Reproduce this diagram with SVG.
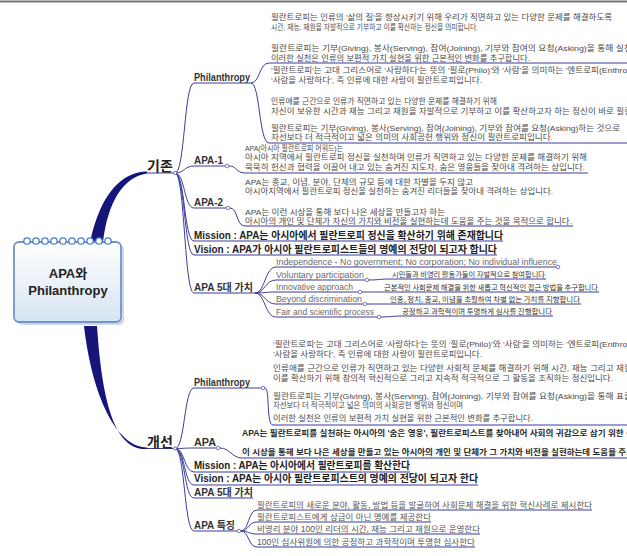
<svg xmlns="http://www.w3.org/2000/svg" width="627" height="556" viewBox="0 0 627 556">
<defs>
<linearGradient id="boxg" x1="0" y1="0" x2="0" y2="1">
<stop offset="0" stop-color="#ffffff"/>
<stop offset="1" stop-color="#d6e4f3"/>
</linearGradient>
<style>
.c{fill:none;stroke:#3c3c9a;stroke-width:1}
.dot{fill:#fff;stroke:#5a5aa8;stroke-width:0.8}
.thick{fill:#15157a}
.t{font-family:"Liberation Sans","Noto Sans CJK KR",sans-serif;font-size:7.8px;fill:#4a4a4a}
.tb{font-family:"Liberation Sans","Noto Sans CJK KR",sans-serif;font-size:8.2px;font-weight:bold;fill:#2a2a2a}
.lab{font-family:"Liberation Sans","Noto Sans CJK KR",sans-serif;font-size:10px;font-weight:bold;fill:#333}
.mv{font-family:"Liberation Sans","Noto Sans CJK KR",sans-serif;font-size:10.5px;font-weight:bold;fill:#222}
.main{font-family:"Noto Sans CJK KR",sans-serif;font-size:14px;font-weight:bold;fill:#222}
.en{font-family:"Liberation Sans","Noto Sans CJK KR",sans-serif;font-size:9px;fill:#6a6a6a}
.kd{font-family:"Noto Sans CJK KR",sans-serif;font-size:6.5px;fill:#333}
.ft{font-family:"Liberation Sans","Noto Sans CJK KR",sans-serif;font-size:8.3px;fill:#555}
.ring{fill:#fff;stroke:#4a7fc8;stroke-width:1.3}
</style>
</defs>
<rect x="0" y="0" width="627" height="556" fill="#fff"/>
<line x1="0" y1="1.5" x2="627" y2="1.5" stroke="#777" stroke-width="2"/>

<g id="connectors">
<path class="thick" d="M90,242 C100,196 120,172 147,171.5 L147,173.5 C123,177 108,202 103,242 Z"/>
<path class="thick" d="M84,326 C92,395 116,447 147,447.5 L147,449 C114,451 102,400 97,326 Z"/>
<path class="c" d="M147,173 L175,173"/>
<path class="c" d="M147,448.5 L175,448.5"/>
<path class="c" d="M175,173 C185,173 184,83 194,83 L251,83"/>
<path class="c" d="M175,173 C185,173 184,166 194,166 L225,166"/>
<path class="c" d="M175,173 C185,173 184,208 194,208 L226,208"/>
<path class="c" d="M175,173 C185,173 184,241 194,241 L503,241"/>
<path class="c" d="M175,173 C185,173 184,255 194,255 L497,255"/>
<path class="c" d="M175,173 C185,173 184,293 194,293 L255,293"/>
<path class="c" d="M251,83 C260,83 259,63 269,63 L627,63"/>
<path class="c" d="M251,83 C260,83 259,143 269,143 L627,143"/>
<path class="c" d="M229,166 C237,166 236,173 245,173 L588,173"/>
<path class="c" d="M230,208 C238,208 236,226 245,226 L573,226"/>
<path class="c" d="M255,293 C265,293 265,267 276,267 L556,267"/>
<path class="c" d="M255,293 C265,293 265,280 276,280 L365,280"/>
<path class="c" d="M255,293 C265,293 265,292 276,292 L358,292"/>
<path class="c" d="M255,293 C265,293 265,304 276,304 L363,304"/>
<path class="c" d="M255,293 C265,293 265,317 276,317 L377,317"/>
<path class="c" d="M369,280 C378,280 381,279 390,279 L546,279"/>
<path class="c" d="M362,292 C371,292 375,292 383,292 L599,292"/>
<path class="c" d="M367,304 C376,304 381,304 389,304 L581,304"/>
<path class="c" d="M381,317 C390,317 393,316 401,316 L553,316"/>
<path class="c" d="M175,448.5 C185,448.5 184,388 194,388 L261,388"/>
<path class="c" d="M175,448.5 C185,448.5 184,448 194,448 L216,448"/>
<path class="c" d="M175,448.5 C185,448.5 184,472 194,472 L410,472"/>
<path class="c" d="M175,448.5 C185,448.5 184,485 194,485 L478,485"/>
<path class="c" d="M175,448.5 C185,448.5 184,498 194,498 L253,498"/>
<path class="c" d="M175,448.5 C185,448.5 184,531 194,531 L237,531"/>
<path class="c" d="M265,388 C270,388 266,425 273,425 L627,425"/>
<path class="c" d="M220,448 C230,448 232,458 242,458 L627,458"/>
<path class="c" d="M241,531 C249,531 248,510 257,510 L592,510"/>
<path class="c" d="M241,531 C249,531 248,522 257,522 L431,522"/>
<path class="c" d="M241,531 C249,531 248,534 257,534 L480,534"/>
<path class="c" d="M241,531 C249,531 248,547 257,547 L475,547"/>
<circle class="dot" cx="175" cy="173" r="1.6"/>
<circle class="dot" cx="175" cy="448.5" r="1.6"/>
<circle class="dot" cx="227" cy="166" r="1.8"/>
<circle class="dot" cx="228" cy="208" r="1.8"/>
<circle class="dot" cx="558" cy="267" r="1.8"/>
<circle class="dot" cx="367" cy="280" r="1.8"/>
<circle class="dot" cx="360" cy="292" r="1.8"/>
<circle class="dot" cx="365" cy="304" r="1.8"/>
<circle class="dot" cx="379" cy="317" r="1.8"/>
<circle class="dot" cx="263" cy="388" r="1.8"/>
<circle class="dot" cx="218" cy="448" r="1.8"/>
<circle class="dot" cx="239" cy="531" r="1.8"/>
</g>

<g id="center">
<rect x="17" y="245" width="107" height="80" rx="5" fill="#9fb4cc" opacity="0.5"/>
<rect x="14" y="242" width="107" height="80" rx="5" fill="url(#boxg)" stroke="#6f95c8" stroke-width="1.8"/>
<circle class="ring" cx="27" cy="241" r="3.2"/><circle class="ring" cx="36" cy="241" r="3.2"/><circle class="ring" cx="45" cy="241" r="3.2"/><circle class="ring" cx="54" cy="241" r="3.2"/><circle class="ring" cx="63" cy="241" r="3.2"/><circle class="ring" cx="72" cy="241" r="3.2"/><circle class="ring" cx="81" cy="241" r="3.2"/><circle class="ring" cx="90" cy="241" r="3.2"/><circle class="ring" cx="99" cy="241" r="3.2"/><circle class="ring" cx="108" cy="241" r="3.2"/>
<text x="68" y="278" text-anchor="middle" font-family="Liberation Sans,'Noto Sans CJK KR',sans-serif" font-size="13" font-weight="bold" fill="#222">APA와</text>
<text x="68" y="295" text-anchor="middle" font-family="Liberation Sans,'Noto Sans CJK KR',sans-serif" font-size="13" font-weight="bold" fill="#222">Philanthropy</text>
</g>

<g id="gizon">
<text class="main" x="147" y="171">기존</text>
</g>
<g id="gaeseon">
<text class="main" x="147" y="447">개선</text>
</g>

<g id="phil1">
<text class="lab" x="194" y="81" textLength="56" lengthAdjust="spacingAndGlyphs">Philanthropy</text>
</g>
<g id="phil1-a">
<text class="t" x="271" y="19.5" textLength="341" lengthAdjust="spacingAndGlyphs">필란트로피는 인류의 '삶의 질'을 향상시키기 위해 우리가 직면하고 있는 다양한 문제를 해결하도록</text>
<text class="t" x="271" y="30" textLength="207" lengthAdjust="spacingAndGlyphs">시간, 재능, 재원을 자발적으로 기부하고 이를 확산하는 정신을 의미합니다.</text>
<text class="t" x="271" y="51" textLength="361" lengthAdjust="spacingAndGlyphs">필란트로피는 기부(Giving), 봉사(Serving), 참여(Joining), 기부와 참여의 요청(Asking)을 통해 실천</text>
<text class="t" x="271" y="60.5" textLength="259" lengthAdjust="spacingAndGlyphs">이러한 실천은 인류의 보편적 가치 실현을 위한 근본적인 변화를 추구합니다.</text>
</g>
<g id="phil1-b">
<text class="t" x="271" y="73" textLength="361" lengthAdjust="spacingAndGlyphs">'필란트로피'는 고대 그리스어로 '사랑하다'는 뜻의 '필로(Philo)'와 '사람'을 의미하는 '엔트로피(Enthrop</text>
<text class="t" x="271" y="82.5" textLength="211" lengthAdjust="spacingAndGlyphs">'사람을 사랑하다', 즉 인류에 대한 사랑이 필란트로피입니다.</text>
<text class="t" x="271" y="104" textLength="226" lengthAdjust="spacingAndGlyphs">인류애를 근간으로 인류가 직면하고 있는 다양한 문제를 해결하기 위해</text>
<text class="t" x="271" y="113.5" textLength="361" lengthAdjust="spacingAndGlyphs">자신이 보유한 시간과 재능 그리고 재원을 자발적으로 기부하고 이를 확산하고자 하는 정신이 바로 필란</text>
<text class="t" x="271" y="130.5" textLength="349" lengthAdjust="spacingAndGlyphs">필란트로피는 기부(Giving), 봉사(Serving), 참여(Joining), 기부와 참여를 요청(Asking)하는 것으로</text>
<text class="t" x="271" y="140" textLength="282" lengthAdjust="spacingAndGlyphs">자선보다 더 적극적이고 넓은 의미의 사회공헌 행위와 정신이 필란트로피입니다.</text>
</g>

<g id="apa1">
<text class="lab" x="194" y="164" textLength="29" lengthAdjust="spacingAndGlyphs">APA-1</text>
</g>
<g id="apa1-t">
<text class="t" x="245" y="151" textLength="98" lengthAdjust="spacingAndGlyphs">APA(아시아 필란트로피 어워드)는</text>
<text class="t" x="245" y="160" textLength="342" lengthAdjust="spacingAndGlyphs">아시아 지역에서 필란트로피 정신을 실천하며 인류가 직면하고 있는 다양한 문제를 해결하기 위해</text>
<text class="t" x="245" y="169.5" textLength="340" lengthAdjust="spacingAndGlyphs">묵묵히 헌신과 협력을 이끌어 내고 있는 숨겨진 지도자, 숨은 영웅들을 찾아내 격려하는 상입니다.</text>
</g>
<g id="apa2">
<text class="lab" x="194" y="206" textLength="29" lengthAdjust="spacingAndGlyphs">APA-2</text>
</g>
<g id="apa2-t">
<text class="t" x="245" y="185" textLength="228" lengthAdjust="spacingAndGlyphs">APA는 종교, 이념, 분야, 단체의 규모 등에 대한 차별을 두지 않고</text>
<text class="t" x="245" y="193.5" textLength="308" lengthAdjust="spacingAndGlyphs">아시아지역에서 필란트로피 정신을 실천하는 숨겨진 리더들을 찾아내 격려하는 상입니다.</text>
<text class="t" x="245" y="215" textLength="200" lengthAdjust="spacingAndGlyphs">APA는 이런 시상을 통해 보다 나은 세상을 만들고자 하는</text>
<text class="t" x="245" y="223.5" textLength="327" lengthAdjust="spacingAndGlyphs">아시아의 개인 및 단체가 자신의 가치와 비전을 실현하는데 도움을 주는 것을 목적으로 합니다.</text>
</g>
<g id="mission1">
<text class="mv" x="194" y="238.5" textLength="309" lengthAdjust="spacingAndGlyphs">Mission : APA는 아시아에서 필란트로피 정신을 확산하기 위해 존재합니다</text>
</g>
<g id="vision1">
<text class="mv" x="194" y="252.5" textLength="303" lengthAdjust="spacingAndGlyphs">Vision : APA가 아시아 필란트로피스트들의 명예의 전당이 되고자 합니다</text>
</g>
<g id="values1">
<text class="lab" x="194" y="291" textLength="59" lengthAdjust="spacingAndGlyphs">APA 5대 가치</text>
</g>
<g id="v-indep"><text class="en" x="276" y="264.5" textLength="281" lengthAdjust="spacingAndGlyphs">Independence - No government; No corporation; No individual influence</text></g>
<g id="v-vol"><text class="en" x="276" y="277.5" textLength="88" lengthAdjust="spacingAndGlyphs">Voluntary participation</text>
<text class="kd" x="392" y="276.5" textLength="153" lengthAdjust="spacingAndGlyphs">시민들과 비영리 활동가들이 자발적으로 참여합니다</text></g>
<g id="v-inno"><text class="en" x="276" y="289.5" textLength="77" lengthAdjust="spacingAndGlyphs">Innovative approach</text>
<text class="kd" x="384" y="289.5" textLength="214" lengthAdjust="spacingAndGlyphs">근본적인 사회문제 해결을 위한 새롭고 혁신적인 접근 방법을 추구합니다</text></g>
<g id="v-beyond"><text class="en" x="276" y="301.5" textLength="86" lengthAdjust="spacingAndGlyphs">Beyond discrimination</text>
<text class="kd" x="390" y="301.5" textLength="190" lengthAdjust="spacingAndGlyphs">인종, 정치, 종교, 이념을 초월하여 차별 없는 가치를 지향합니다</text></g>
<g id="v-fair"><text class="en" x="276" y="314.5" textLength="98" lengthAdjust="spacingAndGlyphs">Fair and scientific process</text>
<text class="kd" x="402" y="314" textLength="150" lengthAdjust="spacingAndGlyphs">공정하고 과학적이며 투명하게 심사를 진행합니다</text></g>

<g id="phil2">
<text class="lab" x="194" y="386" textLength="56" lengthAdjust="spacingAndGlyphs">Philanthropy</text>
</g>
<g id="phil2-t">
<text class="t" x="273" y="347" textLength="359" lengthAdjust="spacingAndGlyphs">'필란트로피'는 고대 그리스어로 '사랑하다'는 뜻의 '필로(Philo)'와 '사람'을 의미하는 '엔트로피(Enthrop</text>
<text class="t" x="273" y="357" textLength="209" lengthAdjust="spacingAndGlyphs">'사람을 사랑하다', 즉 인류에 대한 사랑이 필란트로피입니다.</text>
<text class="t" x="273" y="371" textLength="359" lengthAdjust="spacingAndGlyphs">인류애를 근간으로 인류가 직면하고 있는 다양한 사회적 문제를 해결하기 위해 시간, 재능 그리고 재원</text>
<text class="t" x="273" y="380.5" textLength="340" lengthAdjust="spacingAndGlyphs">이를 확산하기 위해 창의적 혁신적으로 그리고 지속적 적극적으로 그 활동을 조직하는 정신입니다.</text>
<text class="t" x="273" y="398.5" textLength="359" lengthAdjust="spacingAndGlyphs">필란트로피는 기부(Giving), 봉사(Serving), 참여(Joining), 기부와 참여를 요청(Asking)을 통해 표출</text>
<text class="t" x="273" y="408" textLength="190" lengthAdjust="spacingAndGlyphs">자선보다 더 적극적이고 넓은 의미의 사회공헌 행위와 정신이며</text>
<text class="t" x="273" y="420.5" textLength="260" lengthAdjust="spacingAndGlyphs">이러한 실천은 인류의 보편적 가치 실현을 위한 근본적인 변화를 추구합니다.</text>
</g>
<g id="apa-new">
<text class="lab" x="194" y="446" textLength="22" lengthAdjust="spacingAndGlyphs">APA</text>
</g>
<g id="apa-new-t">
<text class="tb" x="242" y="436" textLength="392" lengthAdjust="spacingAndGlyphs">APA는 필란트로피를 실천하는 아시아의 '숨은 영웅', 필란트로피스트를 찾아내어 사회의 귀감으로 삼기 위한 상</text>
<text class="tb" x="242" y="455" textLength="392" lengthAdjust="spacingAndGlyphs">이 시상을 통해 보다 나은 세상을 만들고 있는 아시아의 개인 및 단체가 그 가치와 비전을 실현하는데 도움을 주고</text>
</g>
<g id="mission2">
<text class="mv" x="194" y="469" textLength="216" lengthAdjust="spacingAndGlyphs">Mission : APA는 아시아에서 필란트로피를 확산한다</text>
</g>
<g id="vision2">
<text class="mv" x="194" y="482" textLength="284" lengthAdjust="spacingAndGlyphs">Vision : APA는 아시아 필란트로피스트의 명예의 전당이 되고자 한다</text>
</g>
<g id="values2">
<text class="lab" x="194" y="495.5" textLength="59" lengthAdjust="spacingAndGlyphs">APA 5대 가치</text>
</g>
<g id="features">
<text class="lab" x="194" y="528.5" textLength="41" lengthAdjust="spacingAndGlyphs">APA 특징</text>
</g>
<g id="f1"><text class="ft" x="257" y="507.5" textLength="335" lengthAdjust="spacingAndGlyphs">필란트로피의 새로운 분야, 활동, 방법 등을 발굴하여 사회문제 해결을 위한 혁신사례로 제시한다</text></g>
<g id="f2"><text class="ft" x="257" y="519.5" textLength="174" lengthAdjust="spacingAndGlyphs">필란트로피스트에게 상금이 아닌 명예를 제공한다</text></g>
<g id="f3"><text class="ft" x="257" y="531.5" textLength="223" lengthAdjust="spacingAndGlyphs">비영리 분야 100인 리더의 시간, 재능 그리고 재원으로 운영한다</text></g>
<g id="f4"><text class="ft" x="257" y="544.5" textLength="218" lengthAdjust="spacingAndGlyphs">100인 심사위원에 의한 공정하고 과학적이며 투명한 심사한다</text></g>
</svg>
